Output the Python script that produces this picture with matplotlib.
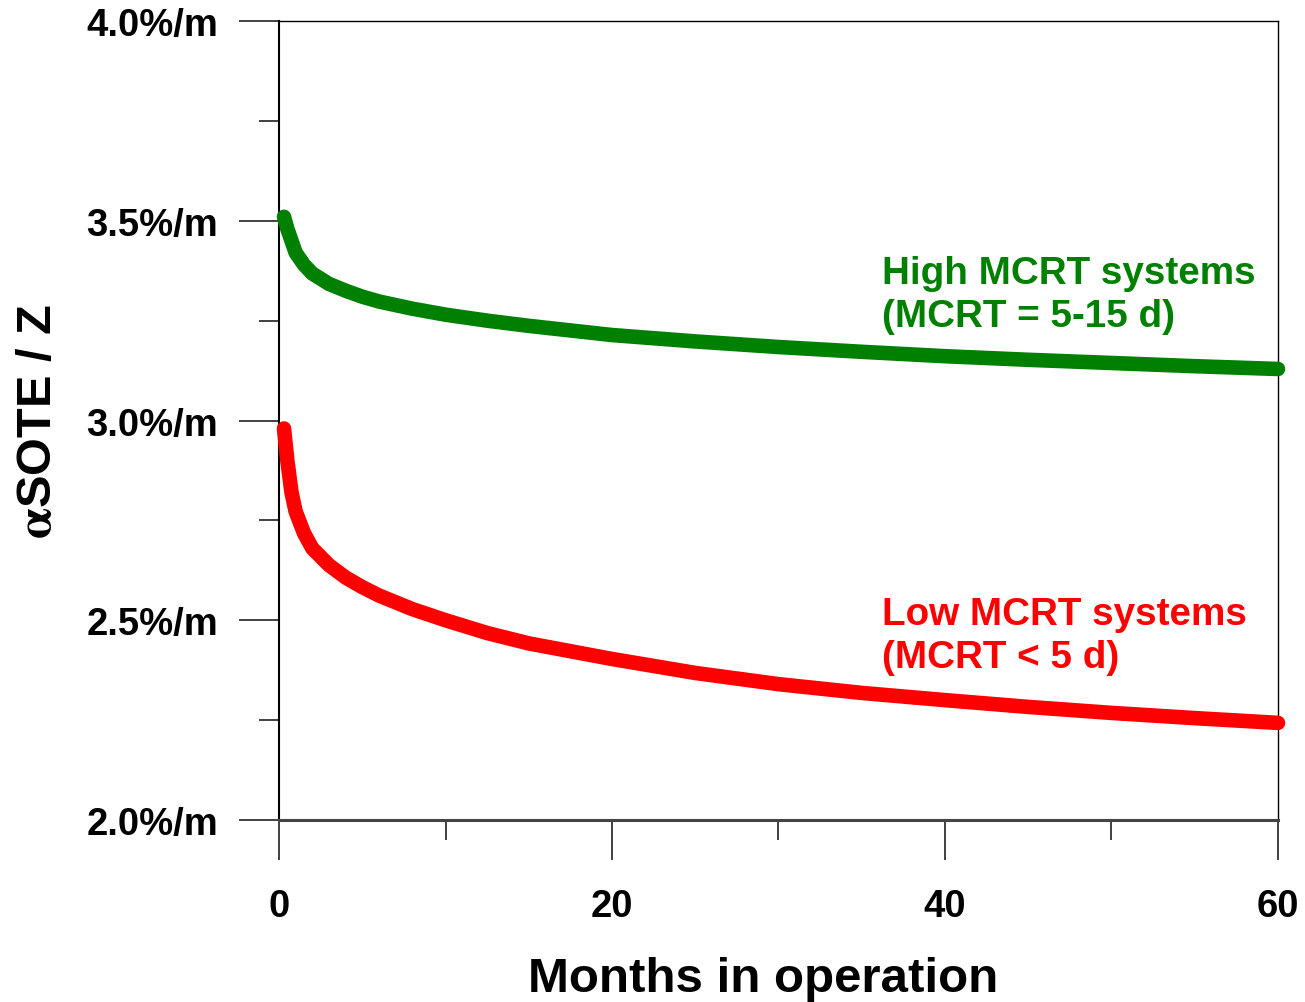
import matplotlib.pyplot as plt
import numpy as np

plt.rcParams['font.family'] = 'Liberation Sans'
plt.rcParams['font.weight'] = 'bold'
plt.rcParams['axes.labelweight'] = 'bold'
plt.rcParams['mathtext.fontset'] = 'stix'

# aeration efficiency vs diffuser age
months = [0.3, 0.5, 0.75, 1.0, 1.5, 2.0, 3.0, 4.0, 5.0, 6.0, 8.0, 10.0,
          12.5, 15.0, 20.0, 25.0, 30.0, 35.0, 40.0, 45.0, 50.0, 55.0, 60.0]
high_mcrt = [3.51, 3.48, 3.45, 3.42, 3.39, 3.368, 3.342, 3.325, 3.31, 3.298, 3.28, 3.265,
             3.25, 3.237, 3.214, 3.198, 3.184, 3.172, 3.161, 3.152, 3.144, 3.136, 3.129]
low_mcrt = [2.98, 2.90, 2.82, 2.772, 2.718, 2.68, 2.638, 2.607, 2.583, 2.562, 2.528, 2.50,
            2.468, 2.442, 2.403, 2.368, 2.34, 2.318, 2.30, 2.283, 2.268, 2.255, 2.243]

yticks = [2.0, 2.5, 3.0, 3.5, 4.0]
ytick_labels = ['2.0%/m', '2.5%/m', '3.0%/m', '3.5%/m', '4.0%/m']
xticks = [0, 20, 40, 60]

fig = plt.figure(figsize=(13.05, 10.03), dpi=100)
ax = fig.add_axes([0.2138, 0.1815, 0.7655, 0.7965])

ax.plot(months, high_mcrt, color='#008000', lw=10.5, solid_capstyle='round',
        solid_joinstyle='round', clip_on=False, zorder=3)
ax.plot(months, low_mcrt, color='#FF0000', lw=10.5, solid_capstyle='round',
        solid_joinstyle='round', clip_on=False, zorder=3)

ax.set_xlim(0, 60)
ax.set_ylim(2.0, 4.0)

ax.set_yticks(yticks)
ax.set_yticklabels(ytick_labels)
ax.set_yticks(np.arange(2.25, 4.0, 0.5), minor=True)
ax.set_xticks(xticks)
ax.set_xticks([10, 30, 50], minor=True)

ax.tick_params(axis='both', which='major', direction='out', length=29, width=1.3,
               color='#333333', labelsize=27.5)
ax.tick_params(axis='both', which='minor', direction='out', length=14.5, width=1.3,
               color='#333333')
ax.tick_params(axis='y', which='major', pad=15)
ax.tick_params(axis='x', which='major', pad=20)

for s in ['top', 'right']:
    ax.spines[s].set_linewidth(1.0)
ax.spines['left'].set_linewidth(1.5)
ax.spines['bottom'].set_linewidth(2.2)
ax.spines['bottom'].set_color('#444444')

ax.set_xlabel('Months in operation', fontsize=35.5)
ax.xaxis.set_label_coords(0.485, -0.17)
ax.set_ylabel(r'$\mathrm{\alpha}$SOTE / Z', fontsize=35, labelpad=18)

ax.text(36.2, 3.3154, 'High MCRT systems\n(MCRT = 5-15 d)', color='#008000',
        fontsize=27.8, va='center', ha='left', linespacing=1.25)
ax.text(36.2, 2.4606, 'Low MCRT systems\n(MCRT < 5 d)', color='#FF0000',
        fontsize=27.8, va='center', ha='left', linespacing=1.25)

fig.savefig('out.png', dpi=100)
